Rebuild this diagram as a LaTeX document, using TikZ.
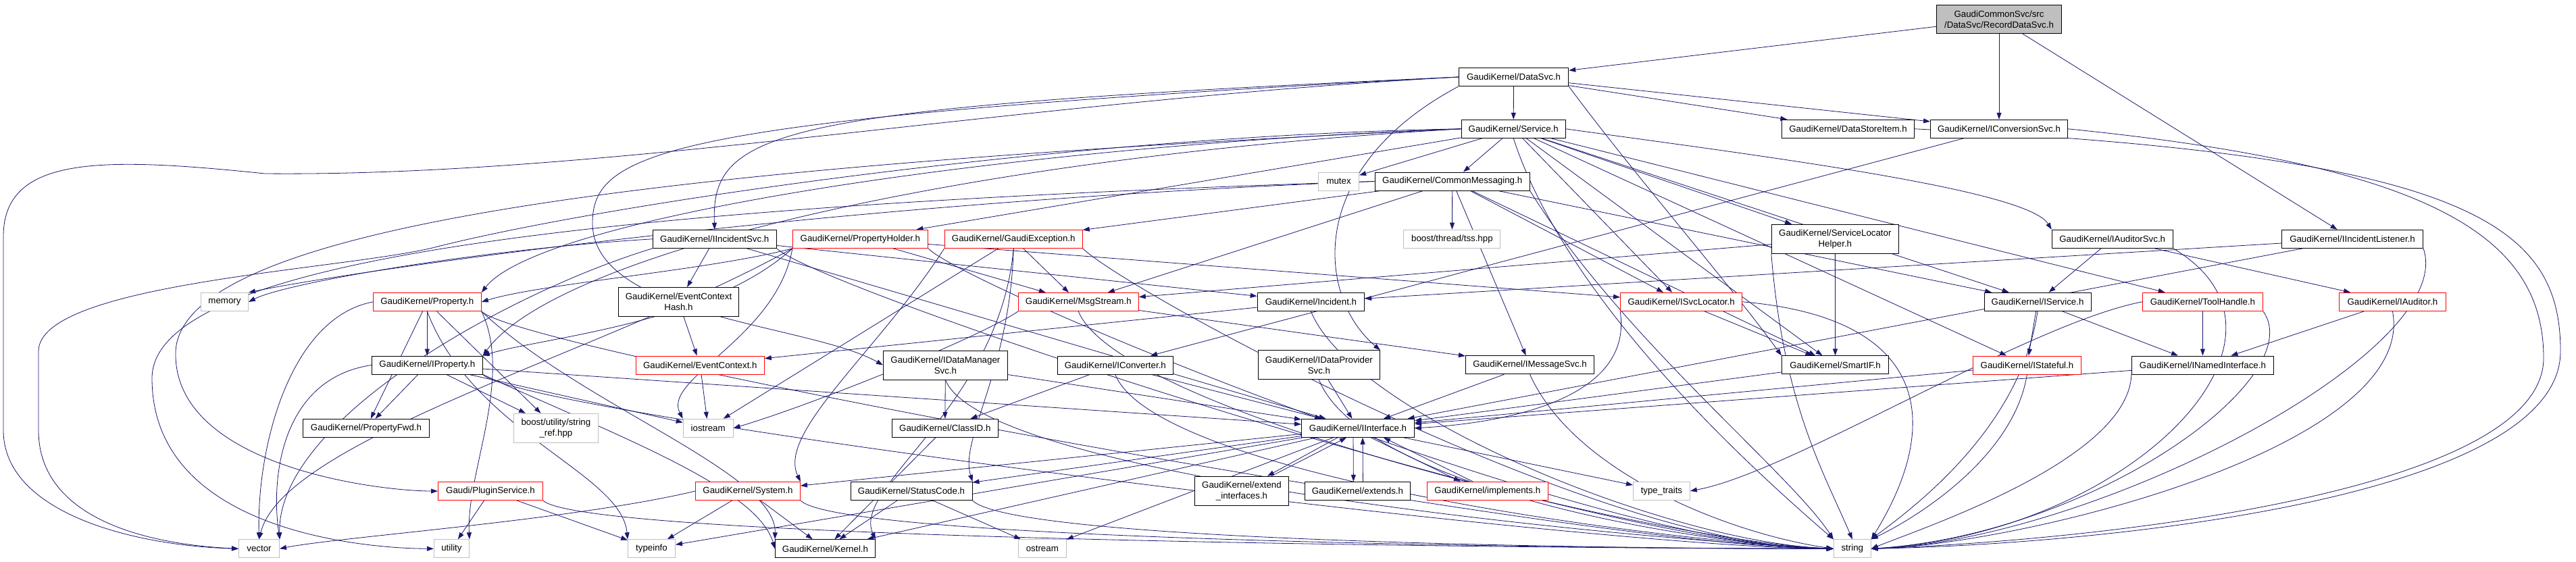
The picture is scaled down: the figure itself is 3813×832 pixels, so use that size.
\documentclass[tikz,border=0pt]{standalone}
\usepackage{fontspec}
\setmainfont{Liberation Sans}
\usetikzlibrary{arrows.meta}
\definecolor{edgeblue}{HTML}{191970}
\definecolor{grayb}{HTML}{BFBFBF}
\newcommand\nodefont{\fontsize{13.3}{16}\selectfont}
\pgfdeclarelayer{bg}
\pgfsetlayers{bg,main}
\begin{document}
\begin{tikzpicture}[x=1pt,y=-1pt,
  box/.style={draw=black, line width=1pt, fill=white, inner sep=0pt, minimum height=27pt, align=center, font=\nodefont},
  redbox/.style={box, draw=red},
  graybox/.style={box, draw=grayb},
  rootbox/.style={box, fill=grayb, minimum height=42pt},
  two/.style={minimum height=43pt},
  edge/.style={draw=edgeblue, line width=0.8pt, -{Triangle[length=10pt,width=7pt]}}]
\useasboundingbox (0,0) rectangle (3813,832);
% ---------------- nodes ----------------
\node[rootbox, minimum width=185pt] (R) at (2959,28.3) {GaudiCommonSvc/src\\/DataSvc/RecordDataSvc.h};
\node[box, minimum width=162.5pt] (DS) at (2240.5,114) {GaudiKernel/DataSvc.h};
\node[box, minimum width=154pt] (SV) at (2240.2,190.8) {GaudiKernel/Service.h};
\node[box, minimum width=196pt] (DSI) at (2735.5,190.8) {GaudiKernel/DataStoreItem.h};
\node[box, minimum width=203pt] (ICS) at (2959,190.8) {GaudiKernel/IConversionSvc.h};
\node[graybox, minimum width=60pt] (MX) at (1981.6,268.5) {mutex};
\node[box, minimum width=229pt] (CM) at (2149.7,268.5) {GaudiKernel/CommonMessaging.h};
\node[graybox, minimum width=143pt] (TSS) at (2149.4,353.7) {boost/thread/tss.hpp};
\node[box, two, minimum width=188pt] (SLH) at (2716.3,353.8) {GaudiKernel/ServiceLocator\\Helper.h};
\node[box, minimum width=183pt] (IIS) at (1057.8,353.8) {GaudiKernel/IIncidentSvc.h};
\node[redbox, minimum width=200pt] (PH) at (1273.4,353.8) {GaudiKernel/PropertyHolder.h};
\node[redbox, minimum width=204pt] (GE) at (1500.2,353.8) {GaudiKernel/GaudiException.h};
\node[box, minimum width=179pt] (IAS) at (3126.7,353.8) {GaudiKernel/IAuditorSvc.h};
\node[box, minimum width=209pt] (IIL) at (3482,353.8) {GaudiKernel/IIncidentListener.h};
\node[graybox, minimum width=70pt] (MEM) at (332.5,447) {memory};
\node[redbox, minimum width=160pt] (PR) at (632.3,447) {GaudiKernel/Property.h};
\node[box, two, minimum width=178pt] (ECH) at (1004.5,447) {GaudiKernel/EventContext\\Hash.h};
\node[redbox, minimum width=178pt] (MS) at (1596.3,447) {GaudiKernel/MsgStream.h};
\node[box, minimum width=158.5pt] (INC) at (1940.4,446.8) {GaudiKernel/Incident.h};
\node[redbox, minimum width=180pt] (ISL) at (2488.6,446.8) {GaudiKernel/ISvcLocator.h};
\node[box, minimum width=158pt] (ISV) at (3016,446.8) {GaudiKernel/IService.h};
\node[redbox, minimum width=178pt] (TH) at (3260.4,446.8) {GaudiKernel/ToolHandle.h};
\node[redbox, minimum width=158pt] (IA) at (3541.4,446.8) {GaudiKernel/IAuditor.h};
\node[box, minimum width=164pt] (IP) at (632.3,540.5) {GaudiKernel/IProperty.h};
\node[redbox, minimum width=190pt] (EC) at (1036.3,540.5) {GaudiKernel/EventContext.h};
\node[box, two, minimum width=184pt] (IDM) at (1399.4,540.5) {GaudiKernel/IDataManager\\Svc.h};
\node[box, minimum width=171pt] (ICV) at (1650.8,540.5) {GaudiKernel/IConverter.h};
\node[box, two, minimum width=180pt] (IDP) at (1952.4,540.3) {GaudiKernel/IDataProvider\\Svc.h};
\node[box, minimum width=190pt] (IMS) at (2264.5,540.3) {GaudiKernel/IMessageSvc.h};
\node[box, minimum width=158pt] (SIF) at (2716.5,540.4) {GaudiKernel/SmartIF.h};
\node[redbox, minimum width=160pt] (IST) at (3000.4,540.5) {GaudiKernel/IStateful.h};
\node[box, minimum width=210pt] (INI) at (3260.4,540.5) {GaudiKernel/INamedInterface.h};
\node[box, minimum width=187pt] (PF) at (542,633.8) {GaudiKernel/PropertyFwd.h};
\node[graybox, two, minimum width=125pt] (SR) at (822.9,633.8) {boost/utility/string\\\_ref.hpp};
\node[graybox, minimum width=74pt] (IOS) at (1048.2,633.8) {iostream};
\node[box, minimum width=157pt] (CID) at (1398.8,633.8) {GaudiKernel/ClassID.h};
\node[box, minimum width=167pt] (II) at (2010,633.8) {GaudiKernel/IInterface.h};
\node[redbox, minimum width=155pt] (PS) at (726,727) {Gaudi/PluginService.h};
\node[redbox, minimum width=155pt] (SYS) at (1107,727) {GaudiKernel/System.h};
\node[box, minimum width=180pt] (SC) at (1349,727) {GaudiKernel/StatusCode.h};
\node[box, two, minimum width=139pt] (EI) at (1838,726.7) {GaudiKernel/extend\\\_interfaces.h};
\node[box, minimum width=156pt] (EXT) at (2009.4,726.8) {GaudiKernel/extends.h};
\node[redbox, minimum width=179pt] (IMP) at (2201.8,726.8) {GaudiKernel/implements.h};
\node[graybox, minimum width=84pt] (TT) at (2459.4,726.8) {type\_traits};
\node[graybox, minimum width=60pt] (VEC) at (383.5,812.3) {vector};
\node[graybox, minimum width=52pt] (UT) at (668.4,812.3) {utility};
\node[graybox, minimum width=70pt] (TI) at (964.5,812.3) {typeinfo};
\node[box, minimum width=148pt] (KER) at (1221.5,812.3) {GaudiKernel/Kernel.h};
\node[graybox, minimum width=71pt] (OS) at (1542.8,812.3) {ostream};
\node[graybox, minimum width=55pt] (STR) at (2741.8,812.3) {string};
\begin{pgfonlayer}{bg}
\fill[white] (0,0) rectangle (3813,832);
% ---------------- straight edges ----------------
\foreach \a/\b in {R/DS, R/ICS, R/IIL, DS/SV, DS/DSI, DS/ICS,
  SV/MX, SV/CM, SV/ISL, SV/SIF, SV/SLH, SV/ISV, SV/IST, SV/TH, SV/PH,
  CM/TSS, CM/GE, CM/MS, CM/ISL, CM/IMS, CM/ISV, CM/SIF,
  PH/MS, PH/ISL, GE/MS, GE/IOS, IIS/ECH, IIS/INC, IIS/II,
  ECH/EC, EC/IOS, INC/EC, MS/IMS,
  SLH/SIF, SLH/MS, ISL/SIF, ISV/IST, ISV/INI, IST/II, INI/II,
  TH/INI, IAS/ISV, IAS/IA, IA/INI, IIL/II, IIL/INC, IMS/II, SIF/II,
  II/KER, II/SC, II/SYS, II/OS, II/TT, II/TI,
  IDP/II, IDM/CID, IDM/II, ICV/CID, ICV/II, ICS/ICV,
  CID/KER, SC/KER, SC/OS, SYS/KER, SYS/TI,
  PS/UT, PS/TI, PR/IP, PR/PF, PR/SR, IP/PF, IP/II, IP/SR, IP/IOS}
  \draw[edge] (\a) -- (\b);
\draw[edge] (ISL.south west) .. controls (2420,600) and (2200,628) .. (II.east);
% cycles with IInterface
\draw[edge] ([xshift=-30pt]II.south) -- ([xshift=38pt]EI.north);
\draw[edge] ([xshift=44pt]EI.north) -- ([xshift=-17pt]II.south);
\draw[edge] ([xshift=-7pt]II.south) -- ([xshift=-6pt]EXT.north);
\draw[edge] ([xshift=8pt]EXT.north) -- ([xshift=7pt]II.south);
\draw[edge] ([xshift=19pt]II.south) -- ([xshift=-40pt]IMP.north);
\draw[edge] ([xshift=-22pt]IMP.north) -- ([xshift=38pt]II.south);
% ---------------- curved edges ----------------
\draw[edge] (DS.west) .. controls (1500,150) and (900,262) .. (392,257)
  .. controls (150,232) and (5,230) .. (5,350) -- (5,637)
  .. controls (5,760) and (200,808) .. (VEC.west);
\draw[edge] (DS.west) .. controls (1150,160) and (1052,190) .. (IIS.north);
\draw[edge] (DS.west) .. controls (1000,175) and (877,220) .. (877,330)
  .. controls (877,470) and (1200,480) .. (IDM.west);
\draw[edge] (DS.south west) .. controls (1930,250) and (1950,440) .. (IDP.north east);
\draw[edge] (DS.south east) .. controls (2420,260) and (2560,420) .. (SIF.north west);
\draw[edge] (SV.west) .. controls (1600,200) and (900,300) .. (640,367)
  .. controls (500,400) and (57,420) .. (57,520) -- (57,637)
  .. controls (57,760) and (200,805) .. (VEC.west);
\draw[edge] (SV.west) .. controls (1500,215) and (800,320) .. (PR.north east);
\draw[edge] (SV.west) .. controls (1400,235) and (820,380) .. (IP.north east);
\draw[edge] (SV.west) .. controls (1000,245) and (270,330) .. (260,520)
  .. controls (255,690) and (560,727) .. (PS.west);
\draw[edge] (SV.east) .. controls (2600,230) and (3000,280) .. (IAS.north west);
\draw[edge] (SV.south) .. controls (2320,450) and (2600,700) .. (STR.north west);
\draw[edge] (CM.west) .. controls (1200,300) and (500,405) .. (MEM.north east);
\draw[edge] (CM.west) .. controls (900,305) and (225,380) .. (225,560)
  .. controls (225,790) and (550,812) .. (UT.west);
\draw[edge] (CM.south east) .. controls (2400,500) and (2650,700) .. (STR.north west);
\draw[edge] (PH.south west) .. controls (1050,400) and (800,420) .. (PR.east);
\draw[edge] (PH.south west) .. controls (1050,480) and (800,500) .. (IP.north east);
\draw[edge] (PH.south west) .. controls (1150,500) and (980,560) .. (IOS.north west);
\draw[edge] (PH.south west) .. controls (900,520) and (420,650) .. (VEC.north);
\draw[edge] (GE.south) .. controls (1495,550) and (1420,650) .. (SC.north east);
\draw[edge] (GE.south west) .. controls (1300,520) and (1150,640) .. (SYS.north east);
\draw[edge] (GE.south) .. controls (1480,600) and (1260,720) .. (KER.north east);
\draw[edge] (IIS.west) .. controls (700,370) and (420,420) .. (MEM.east);
\draw[edge] (IIS.south west) .. controls (760,430) and (410,620) .. (VEC.north east);
\draw[edge] (MS.south west) .. controls (1450,500) and (1200,600) .. (IOS.east);
\draw[edge] (PR.west) .. controls (430,470) and (380,660) .. (VEC.north);
\draw[edge] (PR.south east) .. controls (760,560) and (690,700) .. (UT.north east);
\draw[edge] (PR.south) .. controls (700,640) and (920,700) .. (TI.north west);
\draw[edge] (PR.south east) .. controls (860,600) and (1150,700) .. (KER.north west);
\draw[edge] (IP.west) .. controls (420,560) and (400,700) .. (VEC.north east);
\draw[edge] (IP.south east) .. controls (900,640) and (1120,720) .. (KER.west);
\draw[edge] (SYS.west) .. controls (850,770) and (500,795) .. (VEC.east);
\draw[edge] (TH.west) .. controls (3000,480) and (2650,700) .. (TT.east);
% ---------------- edges to string ----------------
\foreach \a in {PS, SYS, GE, PR, IP, IIS, PH, SC}
  \draw[edge] (\a.south east) .. controls +(60,60) and +(-350,0) .. (STR.west);
\foreach \a in {INC, MS, IDM, ICV, IDP}
  \draw[edge] (\a.south) .. controls +(60,150) and +(-250,-10) .. (STR.west);
\draw[edge] (IMS.south) .. controls (2330,700) and (2560,790) .. (STR.west);
\draw[edge] (ISL.east) .. controls (2850,470) and (2880,620) .. (STR.north east);
\draw[edge] (ISV.south) .. controls (2990,640) and (2820,760) .. (STR.north east);
\draw[edge] (IST.south) .. controls (2980,680) and (2830,770) .. (STR.north east);
\draw[edge] (INI.south west) .. controls (3150,680) and (2850,780) .. (STR.east);
\draw[edge] (TH.south east) .. controls (3420,560) and (3100,790) .. (STR.east);
\draw[edge] (IAS.south east) .. controls (3440,500) and (3150,790) .. (STR.east);
\draw[edge] (IA.south) .. controls (3580,660) and (3000,805) .. (STR.east);
\draw[edge] (IIL.south east) .. controls (3640,520) and (3100,800) .. (STR.east);
\draw[edge] (DSI.east) .. controls (3650,230) and (3790,330) .. (3790,520)
  .. controls (3790,740) and (3100,806) .. (STR.east);
\draw[edge] (ICS.east) .. controls (3600,245) and (3765,350) .. (3765,530)
  .. controls (3765,730) and (3100,800) .. (STR.east);
\draw[edge] (SLH.south west) .. controls (2640,600) and (2700,700) .. (STR.north);
\end{pgfonlayer}
\end{tikzpicture}
\end{document}
